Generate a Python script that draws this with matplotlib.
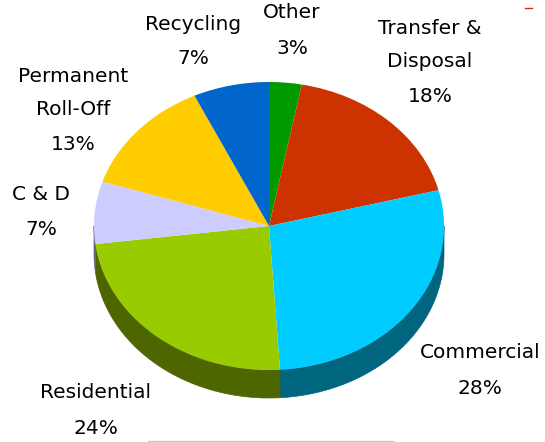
import numpy as np
import matplotlib
matplotlib.use("Agg")
import matplotlib.pyplot as plt
from matplotlib.lines import Line2D

categories = ["Other", "Transfer &\nDisposal", "Commercial", "Residential", "C & D", "Permanent\nRoll-Off", "Recycling"]
shares = [3, 18, 28, 24, 7, 13, 7]
top_colors = ["#009900", "#cc3300", "#00ccff", "#99cc00", "#ccccff", "#ffcc00", "#0066cc"]
wall_colors = ["#004d00", "#661a00", "#006680", "#4d6600", "#666680", "#806600", "#003366"]

W, H = 545, 442
CX, CY, RX, RY, DEPTH = 269, 226, 175, 144, 28

plt.rcParams["font.family"] = ["DejaVu Sans"]

fig = plt.figure(figsize=(W / 100, H / 100), dpi=100)
ax = fig.add_axes([0, 0, 1, 1])

# side wall of the disc, one band per slice on the front half
edges = np.cumsum([0] + shares) / sum(shares) * 2 * np.pi
drop = DEPTH / RY
for i in range(len(shares)):
    lo, hi = max(edges[i], np.pi / 2), min(edges[i + 1], 3 * np.pi / 2)
    if hi <= lo:
        continue
    t = np.linspace(lo, hi, 80)
    x = np.sin(t)
    y = np.cos(t)
    ax.fill(np.r_[x, x[::-1]], np.r_[y, y[::-1] - drop], color=wall_colors[i], lw=0.5)

ax.pie(shares, colors=top_colors, startangle=90, counterclock=False, radius=1,
       wedgeprops={"linewidth": 0})

# stretch the unit circle into the tilted ellipse
ax.set_aspect("auto")
ax.set_xlim(-CX / RX, (W - CX) / RX)
ax.set_ylim((CY - H) / RY, CY / RY)
ax.axis("off")

label_spots = [(292, 13), (430, 45), (480, 353), (96, 393), (41, 194), (73, 93), (193, 24)]
percent_spots = [(292, 48), (430, 97), (480, 389), (96, 428), (41, 229), (73, 144), (193, 58)]
for name, share, (lx, ly), (px, py) in zip(categories, shares, label_spots, percent_spots):
    fig.text(lx / W, 1 - ly / H, name, ha="center", va="center", fontsize=14.5,
             color="black", linespacing=1.9)
    fig.text(px / W, 1 - py / H, f"{share}%", ha="center", va="center", fontsize=14.5, color="black")

# stray rules at the edges of the slide
fig.add_artist(Line2D([525 / W, 532 / W], [1 - 8 / H, 1 - 8 / H], color="#cc3300", lw=1))
fig.add_artist(Line2D([148 / W, 393 / W], [1 - 441 / H, 1 - 441 / H], color="#c8c8c8", lw=1))

fig.savefig("out.png", dpi=100)
